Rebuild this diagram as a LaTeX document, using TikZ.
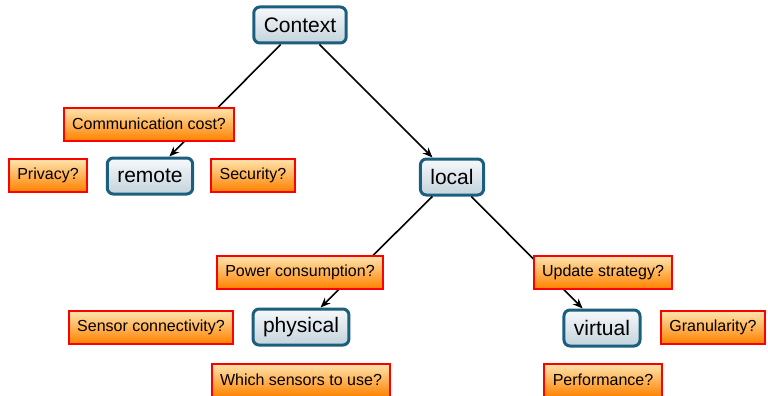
\documentclass[tikz,border=0pt]{standalone}
\usepackage{fontspec}
\setmainfont{Liberation Sans}
\usetikzlibrary{arrows.meta}
\definecolor{mainborder}{HTML}{1B5E7E}
\definecolor{maintop}{HTML}{F6F9FB}
\definecolor{mainbot}{HTML}{C3D3DC}
\definecolor{qtop}{HTML}{FFE6B0}
\definecolor{qbot}{HTML}{FF8200}
\tikzset{
  mainnode/.style={draw=mainborder, line width=3pt, rounded corners=6pt,
    top color=maintop, bottom color=mainbot, inner xsep=10pt,
    minimum height=36pt, font=\fontsize{21}{24}\selectfont},
  qnode/.style={draw=red, line width=2pt, top color=qtop, bottom color=qbot,
    inner xsep=8.5pt, minimum height=33pt, font=\fontsize{16}{19}\selectfont},
  edge/.style={line width=1.6pt, -{Stealth[length=10pt,width=8pt]}}
}
\begin{document}
\begin{tikzpicture}[x=1pt,y=-1pt]
\useasboundingbox (0,0) rectangle (768,396);
\node[mainnode] (context) at (300,25) {Context};
\node[mainnode] (remote) at (150,176) {remote};
\node[mainnode] (local) at (452,177) {local};
\node[mainnode] (physical) at (301,327) {physical};
\node[mainnode] (virtual) at (602,328) {virtual};
\draw[edge] (context) -- (remote);
\draw[edge] (context) -- (local);
\draw[edge] (local) -- (physical);
\draw[edge] (local) -- (virtual);
\node[qnode] (comm) at (149,124) {Communication cost?};
\node[qnode] (privacy) at (48,175) {Privacy?};
\node[qnode] (security) at (253,175) {Security?};
\node[qnode] (power) at (300,272) {Power consumption?};
\node[qnode] (sensorconn) at (151,327) {Sensor connectivity?};
\node[qnode] (which) at (301,380) {Which sensors to use?};
\node[qnode] (update) at (603,272) {Update strategy?};
\node[qnode] (gran) at (713,327) {Granularity?};
\node[qnode] (perf) at (603,380) {Performance?};
\end{tikzpicture}
\end{document}
